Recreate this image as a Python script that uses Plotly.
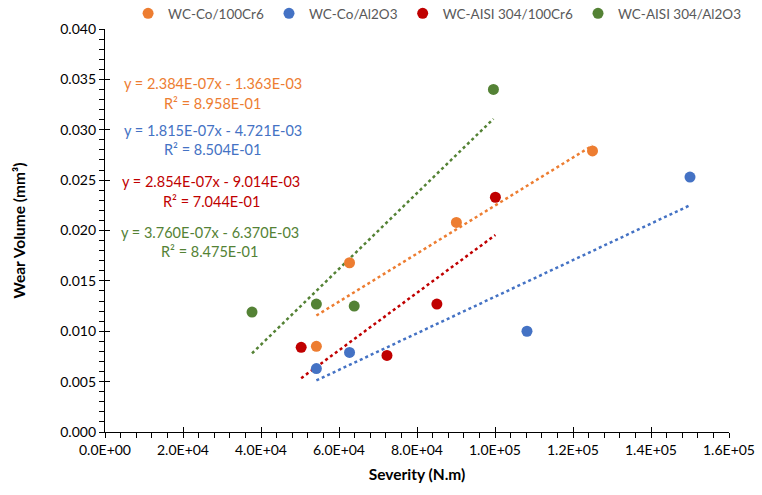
import plotly.graph_objects as go

series_names = ["WC-Co/100Cr6", "WC-Co/Al2O3", "WC-AISI 304/100Cr6", "WC-AISI 304/Al2O3"]
colors = ["#ED7D31", "#4472C4", "#C00000", "#548235"]

orange_x = [54200, 62700, 90100, 125000]
orange_y = [0.0085, 0.0168, 0.0208, 0.0279]
blue_x = [54200, 62700, 108200, 150000]
blue_y = [0.0063, 0.0079, 0.0100, 0.0253]
red_x = [50300, 72300, 85100, 100100]
red_y = [0.0084, 0.0076, 0.0127, 0.0233]
green_x = [37700, 54200, 63900, 99600]
green_y = [0.0119, 0.0127, 0.0125, 0.0340]

slopes = [2.384e-07, 1.815e-07, 2.854e-07, 3.760e-07]
intercepts = [-1.363e-03, -4.721e-03, -9.014e-03, -6.370e-03]
eq_labels = ["y = 2.384E-07x - 1.363E-03", "y = 1.815E-07x - 4.721E-03",
             "y = 2.854E-07x - 9.014E-03", "y = 3.760E-07x - 6.370E-03"]
r2_labels = ["R² = 8.958E-01", "R² = 8.504E-01", "R² = 7.044E-01", "R² = 8.475E-01"]
label_x = [27600, 27600, 27200, 26800]
eq_y = [0.03455, 0.0299, 0.02485, 0.0198]
r2_y = [0.03257, 0.0280, 0.02287, 0.0179]

x_tickvals = [0, 20000, 40000, 60000, 80000, 100000, 120000, 140000, 160000]
x_ticktext = ["0.0E+00", "2.0E+04", "4.0E+04", "6.0E+04", "8.0E+04", "1.0E+05", "1.2E+05", "1.4E+05", "1.6E+05"]
y_tickvals = [0, 0.005, 0.010, 0.015, 0.020, 0.025, 0.030, 0.035, 0.040]
y_ticktext = ["0.000", "0.005", "0.010", "0.015", "0.020", "0.025", "0.030", "0.035", "0.040"]

xs = [orange_x, blue_x, red_x, green_x]
ys = [orange_y, blue_y, red_y, green_y]

FONT = "Lato"
fig = go.Figure()

for i in range(4):
    x0, x1 = min(xs[i]), max(xs[i])
    fig.add_trace(go.Scatter(
        x=[x0, x1], y=[slopes[i] * x0 + intercepts[i], slopes[i] * x1 + intercepts[i]],
        mode="lines", line=dict(color=colors[i], width=2.5, dash="dot"),
        showlegend=False, hoverinfo="skip"))

for i in range(4):
    fig.add_trace(go.Scatter(
        x=xs[i], y=ys[i], mode="markers", name=series_names[i],
        marker=dict(color=colors[i], size=11)))

# overlay axes for cross ticks
fig.add_trace(go.Scatter(x=[0], y=[0], xaxis="x2", yaxis="y2", mode="markers",
                         marker=dict(opacity=0), showlegend=False, hoverinfo="skip"))

for i in range(4):
    fig.add_annotation(x=label_x[i], y=eq_y[i], xref="x", yref="y", text=eq_labels[i],
                       showarrow=False, font=dict(family=FONT, size=14.5, color=colors[i]))
    fig.add_annotation(x=label_x[i], y=r2_y[i], xref="x", yref="y", text=r2_labels[i],
                       showarrow=False, font=dict(family=FONT, size=14.5, color=colors[i]))

axis_common = dict(showgrid=False, zeroline=False, showline=True, linecolor="#000000",
                   linewidth=1.3, tickcolor="#000000", tickwidth=1.3)

fig.update_layout(
    width=762, height=495,
    margin=dict(l=105, r=33, t=29, b=63, autoexpand=False),
    plot_bgcolor="white", paper_bgcolor="white",
    font=dict(family=FONT, color="#000000"),
    legend=dict(orientation="h", x=0.037, xanchor="left", y=1.0, yanchor="bottom",
                font=dict(family=FONT, size=13.5, color="#595959"),
                itemwidth=30, tracegroupgap=0),
    xaxis=dict(range=[0, 160000], tickvals=x_tickvals, ticktext=x_ticktext,
               ticks="outside", ticklen=5,
               minor=dict(dtick=4000, ticks="outside", ticklen=5, tickcolor="#000000", tickwidth=1),
               tickfont=dict(family=FONT, size=14, color="#000000"),
               title=dict(text="<b>Severity (N.m)</b>", font=dict(family=FONT, size=15.5), standoff=12),
               **axis_common),
    yaxis=dict(range=[0, 0.040], tickvals=y_tickvals, ticktext=y_ticktext,
               ticks="outside", ticklen=5,
               minor=dict(dtick=0.001, ticks="outside", ticklen=5, tickcolor="#000000", tickwidth=1),
               tickfont=dict(family=FONT, size=14, color="#000000"),
               title=dict(text="<b>Wear Volume (mm³)</b>", font=dict(family=FONT, size=15.5), standoff=30),
               **axis_common),
    xaxis2=dict(range=[0, 160000], overlaying="x", side="bottom", tickvals=x_tickvals,
                showticklabels=False, ticks="inside", ticklen=5, showgrid=False, zeroline=False,
                showline=False, tickcolor="#000000", tickwidth=1.3),
    yaxis2=dict(range=[0, 0.040], overlaying="y", side="left", tickvals=y_tickvals,
                showticklabels=False, ticks="inside", ticklen=5, showgrid=False, zeroline=False,
                showline=False, tickcolor="#000000", tickwidth=1.3),
)

fig.write_html("out.html", config={"displayModeBar": False},
               post_script="document.body.style.margin='0';document.body.style.padding='0';")
